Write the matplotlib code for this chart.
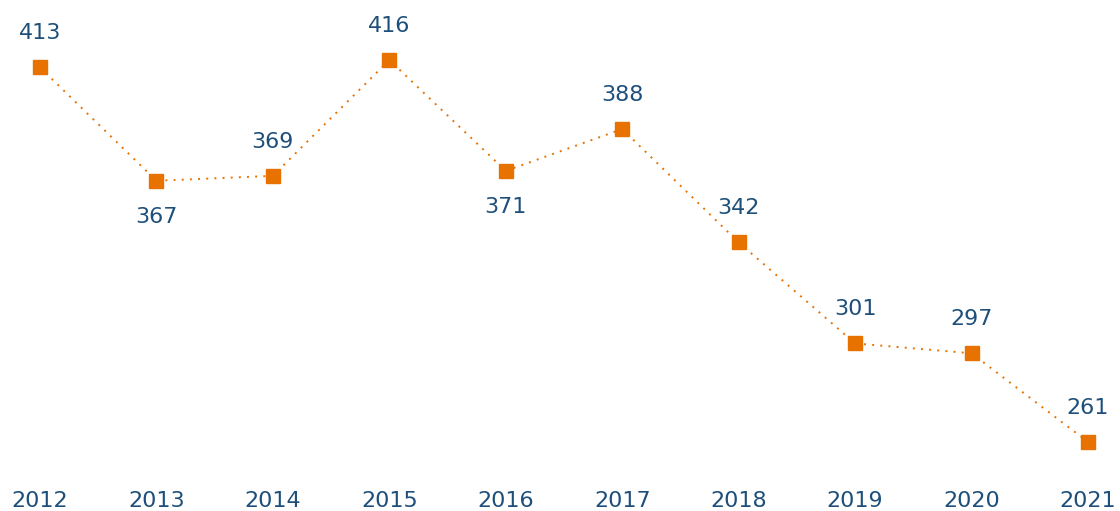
import matplotlib.pyplot as plt
from matplotlib.transforms import blended_transform_factory

years = [2012, 2013, 2014, 2015, 2016, 2017, 2018, 2019, 2020, 2021]
values = [413, 367, 369, 416, 371, 388, 342, 301, 297, 261]
# where each value label goes: 1 = above, -1 = below
label_side = [1, -1, 1, 1, -1, 1, 1, 1, 1, 1]

orange = '#e87200'
blue = '#1d4f7a'

fig = plt.figure(figsize=(11.2, 5.11), dpi=100)
ax = fig.add_axes([0, 0, 1, 1])

ax.plot(years, values, color=orange, linestyle=(0, (1, 3.2)), linewidth=1.4,
        marker='s', markersize=9.5, markerfacecolor=orange, markeredgecolor=orange)

for x, v, s in zip(years, values, label_side):
    dy = 34 if s > 0 else -36
    ax.annotate(str(v), (x, v), xytext=(0, dy), textcoords='offset pixels',
                ha='center', va='center', fontsize=16, color=blue)

trans = blended_transform_factory(ax.transData, ax.transAxes)
for x in years:
    ax.text(x, 1 - 501 / 511, str(x), transform=trans, ha='center', va='center',
            fontsize=16, color=blue)

ax.set_xlim(2011.6565, 2021.2748)
ax.set_ylim(233.0, 440.35)
ax.axis('off')

fig.savefig('out.png', dpi=100)
